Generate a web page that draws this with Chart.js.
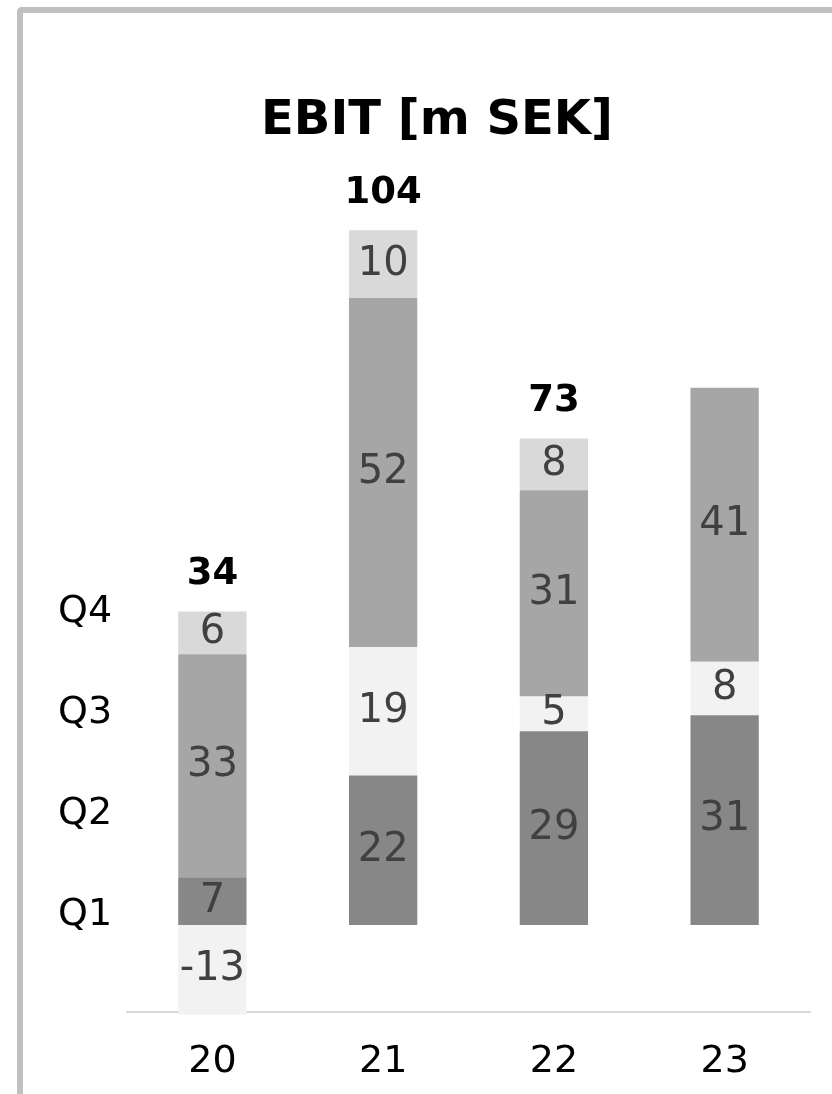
<!DOCTYPE html>
<html>
<head>
<meta charset="utf-8">
<title>EBIT [m SEK]</title>
<script src="https://cdn.jsdelivr.net/npm/chart.js@4.4.0/dist/chart.umd.min.js"></script>
<style>
  html, body { margin: 0; padding: 0; background: #fff; overflow: hidden; }
  .frame {
    position: absolute; left: 17px; top: 7px; width: 840px; height: 1100px;
    border-left: 6px solid #c0c0c0; border-top: 6px solid #c0c0c0;
    border-top-left-radius: 5px;
  }
  #chart { position: absolute; left: 0; top: 0; }
</style>
</head>
<body>
<div class="frame"></div>
<canvas id="chart" width="832" height="1094"></canvas>
<script>
/*----- data (m SEK per quarter) -----*/
var years = ['20', '21', '22', '23'];
var quarters = ['Q1', 'Q2', 'Q3', 'Q4'];
var q1 = [7.1, 22.3, 28.9, 31.3];
var q2 = [-13.4, 19.2, 5.2, 8.0];
var q3 = [33.3, 52.1, 30.8, 40.9];
var q4 = [6.4, 10.1, 7.7, null];
var totals = [34, 104, 73, null];
var colors = ['#878787', '#f2f2f2', '#a6a6a6', '#d9d9d9'];

var FONT = '"DejaVu Sans", sans-serif';

/*----- value labels, year totals and Q labels -----*/
var labelPlugin = {
    id: 'labelPlugin',
    afterDatasetsDraw: function(chart) {
        var ctx = chart.ctx;
        var y = chart.scales.y;
        ctx.save();
        ctx.textAlign = 'center';
        ctx.textBaseline = 'middle';

        // numbers inside the segments
        ctx.font = '40px ' + FONT;
        ctx.fillStyle = '#404040';
        chart.data.datasets.forEach(function(ds, d) {
            var meta = chart.getDatasetMeta(d);
            meta.data.forEach(function(bar, i) {
                if (ds.data[i] == null) return;
                ctx.fillText(Math.round(ds.data[i]), bar.x, (bar.y + bar.base) / 2);
            });
        });

        // totals above the bars
        ctx.font = 'bold 37px ' + FONT;
        ctx.fillStyle = '#000';
        totals.forEach(function(t, i) {
            if (t == null) return;
            var top = 0;
            chart.data.datasets.forEach(function(ds) {
                if (ds.data[i] > 0) top += ds.data[i];
            });
            var x = chart.getDatasetMeta(0).data[i].x;
            ctx.fillText(t, x, y.getPixelForValue(top) - 37);
        });

        // quarter names on the left
        ctx.font = '38px ' + FONT;
        ctx.textAlign = 'left';
        var zero = y.getPixelForValue(0);
        quarters.forEach(function(q, k) {
            ctx.fillText(q, 58, zero - 10 - k * 101);
        });
        ctx.restore();
    }
};

var datasets = [q1, q2, q3, q4].map(function(vals, k) {
    return {
        label: quarters[k],
        data: vals,
        backgroundColor: colors[k],
        borderWidth: 0,
        barPercentage: 0.8,
        categoryPercentage: 0.5,
        clip: false
    };
});

var ctx = document.getElementById('chart').getContext('2d');
var myChart = new Chart(ctx, {
    type: 'bar',
    data: {
        labels: years,
        datasets: datasets
    },
    options: {
        responsive: false,
        animation: false,
        devicePixelRatio: 1,
        layout: { padding: { left: 64, right: 22, top: 0, bottom: 7 } },
        plugins: {
            legend: { display: false },
            tooltip: { enabled: false },
            title: {
                display: true,
                text: 'EBIT [m SEK]',
                color: '#000',
                font: { family: FONT, size: 48, weight: 'bold' },
                padding: { top: 93, bottom: 4 }
            }
        },
        scales: {
            x: {
                stacked: true,
                grid: { display: false, drawTicks: false },
                border: { display: true, color: '#d9d9d9', width: 2 },
                ticks: { color: '#000', font: { family: FONT, size: 38 }, padding: 27 },
                afterFit: function(scale) { scale.height = 75; }
            },
            y: {
                stacked: true,
                min: -13,
                max: 115,
                grid: { display: false, drawTicks: false },
                border: { display: false },
                ticks: { display: false },
                afterFit: function(scale) { scale.width = 63; }
            }
        }
    },
    plugins: [labelPlugin]
});
</script>
</body>
</html>
